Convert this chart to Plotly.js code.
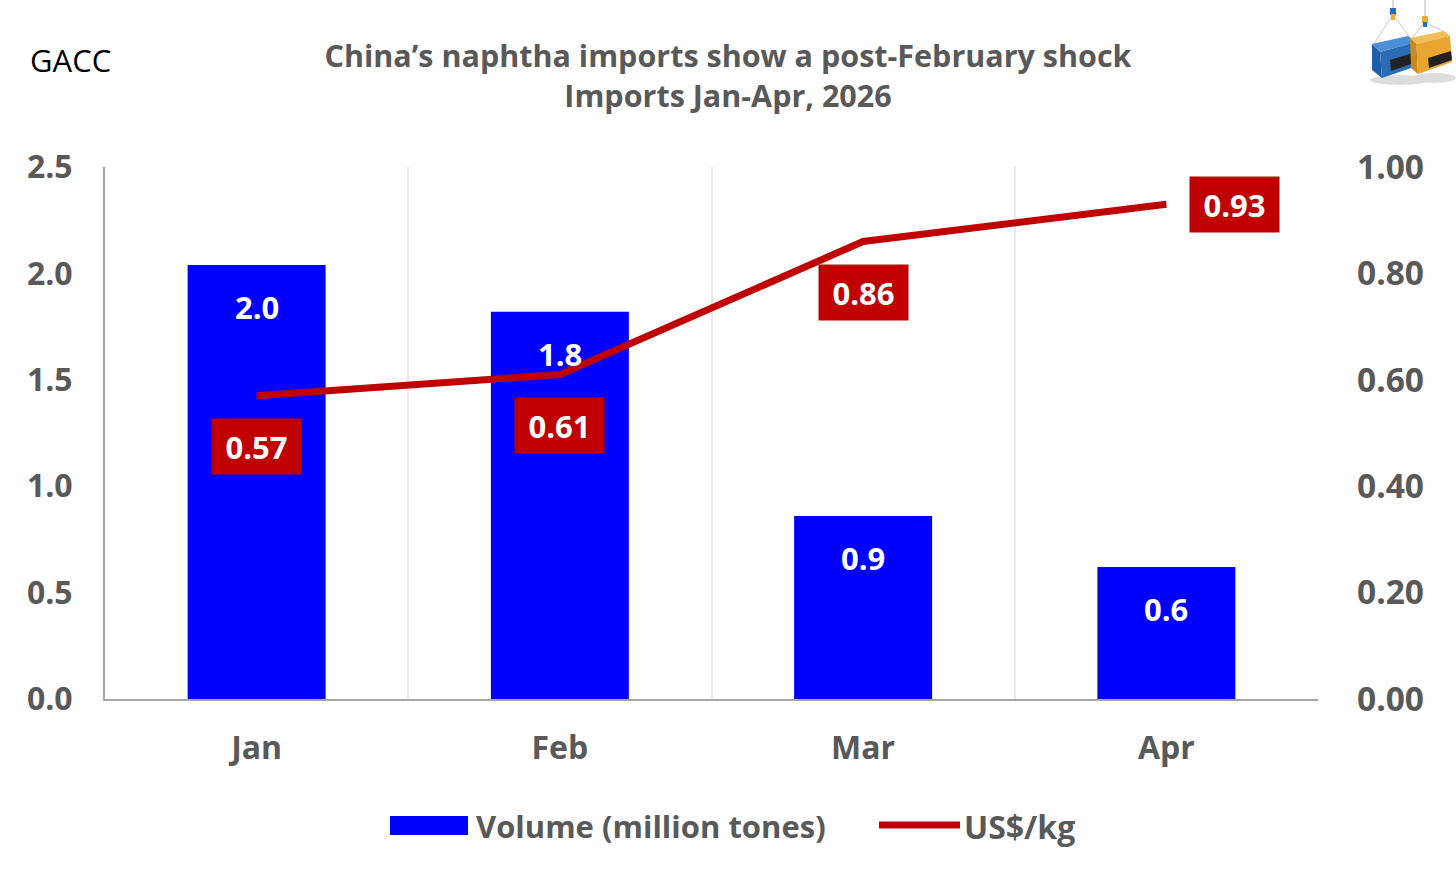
<!DOCTYPE html>
<html>
<head>
<meta charset="utf-8">
<script src="https://cdn.plot.ly/plotly-3.0.1.min.js"></script>
<style>
  html, body { margin: 0; padding: 0; background: #ffffff; }
  #chart { width: 1456px; height: 884px; }
</style>
</head>
<body>
<div id="chart"></div>
<script>
// ---------- data ----------
const categories = ['Jan', 'Feb', 'Mar', 'Apr'];
const volume = [2.04, 1.82, 0.86, 0.62];      // million tones (left axis)
const price = [0.57, 0.61, 0.86, 0.93];       // US$/kg (right axis)
const volumeName = 'Volume (million tones)';
const priceName = 'US$/kg';
const titleLine1 = 'China’s naphtha imports show a post-February shock';
const titleLine2 = 'Imports Jan-Apr, 2026';
const sourceText = 'GACC';

// ---------- layout helpers ----------
const W = 1456, H = 884;
const M = { l: 105, r: 138, t: 167, b: 185 };
const PW = W - M.l - M.r, PH = H - M.t - M.b;
const px = x => (x - M.l) / PW;          // pixel -> paper x
const py = y => (H - M.b - y) / PH;      // pixel -> paper y

const FONT = 'Open Sans, Noto Sans, sans-serif';
const GREY = '#595959';
const BLUE = '#0000FF';
const RED = '#C00000';

const bar = {
  type: 'bar', x: categories, y: volume, name: volumeName,
  marker: { color: BLUE, line: { width: 0 } },
  yaxis: 'y', showlegend: false, hoverinfo: 'skip'
};
const line = {
  type: 'scatter', mode: 'lines', x: categories, y: price, name: priceName,
  line: { color: RED, width: 7 }, yaxis: 'y2', showlegend: false, hoverinfo: 'skip'
};

const annotations = [];
// bar value labels
categories.forEach((c, i) => {
  annotations.push({
    x: c, y: volume[i], xref: 'x', yref: 'y', text: volume[i].toFixed(1),
    showarrow: false, yanchor: 'middle', yshift: -42,
    font: { family: FONT, size: 31, color: '#ffffff', weight: 700 }
  });
});
// price labels (red boxes)
categories.forEach((c, i) => {
  const last = i === categories.length - 1;
  annotations.push({
    x: c, y: price[i], xref: 'x', yref: 'y2', text: price[i].toFixed(2),
    showarrow: false, xanchor: 'center', yanchor: 'middle',
    xshift: last ? 68 : 0, yshift: last ? 0 : -51,
    bgcolor: RED, borderpad: 7, width: 75, height: 41,
    font: { family: FONT, size: 31, color: '#ffffff', weight: 700 }
  });
});
// source
annotations.push({
  xref: 'paper', yref: 'paper', x: px(28), y: py(60), xanchor: 'left', yanchor: 'middle',
  text: sourceText, showarrow: false,
  font: { family: FONT, size: 31, color: '#000000' }
});
// custom legend text
annotations.push({
  xref: 'paper', yref: 'paper', x: px(474), y: py(826), xanchor: 'left', yanchor: 'middle',
  text: volumeName, showarrow: false,
  font: { family: FONT, size: 31, color: GREY, weight: 700 }
});
annotations.push({
  xref: 'paper', yref: 'paper', x: px(962), y: py(826), xanchor: 'left', yanchor: 'middle',
  text: priceName, showarrow: false,
  font: { family: FONT, size: 32, color: GREY, weight: 700 }
});

const shapes = [
  { type: 'rect', xref: 'paper', yref: 'paper', x0: px(390), x1: px(468), y0: py(835), y1: py(816),
    fillcolor: BLUE, line: { width: 0 } },
  { type: 'line', xref: 'paper', yref: 'paper', x0: px(879), x1: px(960), y0: py(825), y1: py(825),
    line: { color: RED, width: 7 } }
];

// logo (simple drawing of two hanging containers)
const logoSvg = `<svg xmlns="http://www.w3.org/2000/svg" width="96" height="90" viewBox="0 0 96 90">
<ellipse cx="40" cy="80" rx="30" ry="5" fill="#dddddd"/>
<ellipse cx="74" cy="78" rx="22" ry="5" fill="#dddddd"/>
<line x1="33" y1="0" x2="33" y2="14" stroke="#bbbbbb" stroke-width="1"/>
<line x1="65" y1="0" x2="65" y2="22" stroke="#bbbbbb" stroke-width="1"/>
<line x1="33" y1="14" x2="14" y2="44" stroke="#bbbbbb" stroke-width="0.8"/>
<line x1="33" y1="14" x2="50" y2="38" stroke="#bbbbbb" stroke-width="0.8"/>
<line x1="65" y1="22" x2="52" y2="38" stroke="#bbbbbb" stroke-width="0.8"/>
<line x1="65" y1="22" x2="86" y2="33" stroke="#bbbbbb" stroke-width="0.8"/>
<rect x="30" y="8" width="6" height="7" fill="#2a6db5"/>
<rect x="31" y="14" width="4" height="6" fill="#e8b030"/>
<rect x="62" y="16" width="6" height="7" fill="#e8b030"/>
<rect x="63" y="22" width="4" height="5" fill="#2a6db5"/>
<polygon points="12,44 48,36 56,42 20,52" fill="#4a8fd8"/>
<polygon points="12,44 20,52 22,78 12,70" fill="#1d5ea8"/>
<polygon points="20,52 56,42 57,66 22,78" fill="#2a6db5"/>
<polygon points="30,60 56,52 57,62 31,71" fill="#222222"/>
<polygon points="50,38 84,31 90,36 56,44" fill="#f2be55"/>
<polygon points="56,44 90,36 92,62 58,74" fill="#e8a531"/>
<polygon points="50,38 56,44 58,74 51,68" fill="#c98a1c"/>
<polygon points="68,58 91,51 92,60 69,68" fill="#222222"/>
</svg>`;

const layout = {
  width: W, height: H,
  margin: M,
  paper_bgcolor: '#ffffff', plot_bgcolor: '#ffffff',
  font: { family: FONT, color: GREY },
  title: {
    text: titleLine1 + '<br>' + titleLine2,
    xref: 'container', yref: 'container', x: 0.5, xanchor: 'center',
    y: 1 - 67 / H, yanchor: 'top',
    font: { family: FONT, size: 30.5, color: GREY, weight: 700 }
  },
  bargap: 0.545,
  showlegend: false,
  xaxis: {
    type: 'category', range: [-0.5, 3.5],
    tickson: 'boundaries', ticks: '',
    showgrid: true, gridcolor: '#e9e9e9', gridwidth: 2,
    showline: true, linecolor: '#a6a6a6', linewidth: 2,
    zeroline: false, ticklabelstandoff: 20,
    tickfont: { family: FONT, size: 32, color: GREY, weight: 700 }
  },
  yaxis: {
    range: [0, 2.5], dtick: 0.5, tick0: 0, tickformat: '.1f',
    showgrid: false, zeroline: false, ticks: '',
    showline: true, linecolor: '#a6a6a6', linewidth: 2,
    ticklabelstandoff: 24,
    tickfont: { family: FONT, size: 32, color: GREY, weight: 700 }
  },
  yaxis2: {
    overlaying: 'y', side: 'right', range: [0, 1], dtick: 0.2, tick0: 0, tickformat: '.2f',
    showgrid: false, zeroline: false, showline: false, ticks: '',
    ticklabelstandoff: 38,
    tickfont: { family: FONT, size: 33.5, color: GREY, weight: 700 }
  },
  annotations: annotations,
  shapes: shapes,
  images: [{
    source: 'data:image/svg+xml;charset=utf-8,' + encodeURIComponent(logoSvg),
    xref: 'paper', yref: 'paper', x: px(1360), y: py(0), sizex: 96 / PW, sizey: 90 / PH,
    xanchor: 'left', yanchor: 'top', sizing: 'stretch', layer: 'above'
  }]
};

Plotly.newPlot('chart', [bar, line], layout, { staticPlot: true, displayModeBar: false });
</script>
</body>
</html>
